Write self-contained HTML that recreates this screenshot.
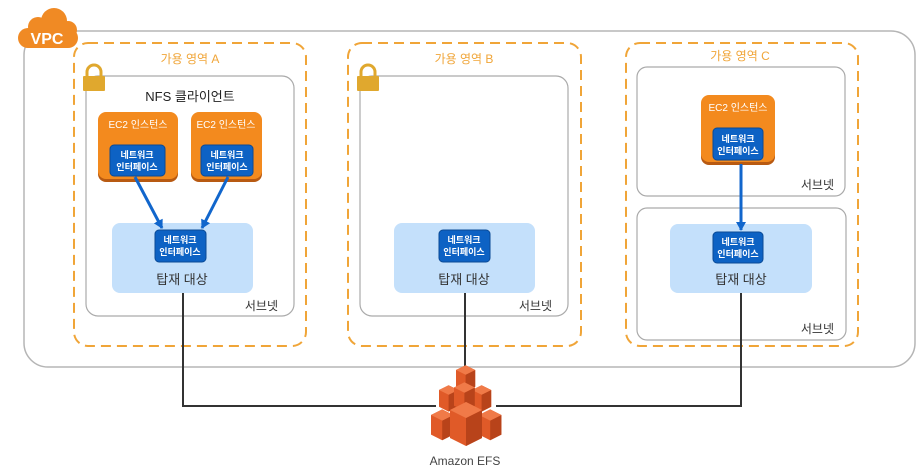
<!DOCTYPE html>
<html><head><meta charset="utf-8"><style>
body{margin:0;background:#fff;}
svg{display:block;font-family:"Liberation Sans","Noto Sans CJK KR",sans-serif;}
</style></head><body>
<svg width="922" height="476" viewBox="0 0 922 476">
<defs>
<marker id="ar" markerWidth="10" markerHeight="10" refX="8" refY="5" orient="auto" markerUnits="userSpaceOnUse"><path d="M0,0 L9,5 L0,10z" fill="#1166cc"/></marker>
<g id="efsc"><path d="M0,-5 L8,-9 L16,-5 L16,9 L8,13 L0,9z" fill="#e05a28"/><path d="M8,-1 L16,-5 L16,9 L8,13z" fill="#b8431a"/><path d="M0,-5 L8,-9 L16,-5 L8,-1z" fill="#f07a48"/></g>
</defs>
<rect x="24" y="31" width="891" height="336" rx="24" fill="#fff" stroke="#b5b5b5" stroke-width="1.5"/>
<g fill="#f08a24">
<circle cx="38" cy="27" r="10"/><circle cx="54" cy="21" r="13"/><circle cx="68" cy="30" r="9"/><rect x="18" y="28" width="60" height="20" rx="10"/>
</g>
<text x="47" y="44" text-anchor="middle" font-size="16" font-weight="bold" fill="#fff">VPC</text>

<g fill="none" stroke="#f0a538" stroke-width="2" stroke-dasharray="10,6">
<rect x="74" y="43" width="232" height="303" rx="14"/>
<rect x="348" y="43" width="233" height="303" rx="14"/>
<rect x="626" y="43" width="232" height="303" rx="14"/>
</g>
<g font-size="12" fill="#f0a538" text-anchor="middle">
<text x="190" y="63">가용 영역 A</text>
<text x="464" y="63">가용 영역 B</text>
<text x="740" y="60">가용 영역 C</text>
</g>
<g fill="#fff" stroke="#aaa" stroke-width="1.2">
<rect x="86" y="76" width="208" height="240" rx="12"/>
<rect x="360" y="76" width="208" height="240" rx="12"/>
<rect x="637" y="67" width="208" height="129" rx="10"/>
<rect x="637" y="208" width="209" height="132" rx="10"/>
</g>
<g fill="#e0a82e">
<rect x="83" y="76" width="22" height="15" rx="1"/>
<path d="M87,77 v-5 a7,7 0 0 1 14,0 v5" fill="none" stroke="#e0a82e" stroke-width="3"/>
<rect x="357" y="76" width="22" height="15" rx="1"/>
<path d="M361,77 v-5 a7,7 0 0 1 14,0 v5" fill="none" stroke="#e0a82e" stroke-width="3"/>
</g>
<text x="190" y="101" text-anchor="middle" font-size="13" fill="#222">NFS 클라이언트</text>
<g font-size="12" fill="#333" text-anchor="end">
<text x="278" y="310">서브넷</text>
<text x="552" y="310">서브넷</text>
<text x="834" y="189">서브넷</text>
<text x="834" y="333">서브넷</text>
</g>
<g>
<rect x="98" y="114" width="80" height="68" rx="8" fill="#b85a12"/>
<rect x="98" y="112" width="80" height="67" rx="8" fill="#f38a1e"/>
<rect x="191" y="114" width="71" height="68" rx="8" fill="#b85a12"/>
<rect x="191" y="112" width="71" height="67" rx="8" fill="#f38a1e"/>
<rect x="701" y="97" width="74" height="68" rx="8" fill="#b85a12"/>
<rect x="701" y="95" width="74" height="67" rx="8" fill="#f38a1e"/>
</g>
<g font-size="10" fill="#fff" text-anchor="middle">
<text x="138" y="128">EC2 인스턴스</text>
<text x="226" y="128">EC2 인스턴스</text>
<text x="738" y="111">EC2 인스턴스</text>
</g>
<g fill="#c4e0fb">
<rect x="112" y="223" width="141" height="70" rx="8"/>
<rect x="394" y="223" width="141" height="70" rx="8"/>
<rect x="670" y="224" width="142" height="69" rx="8"/>
</g>
<g font-size="13" fill="#333" text-anchor="middle">
<text x="182" y="284">탑재 대상</text>
<text x="464" y="284">탑재 대상</text>
<text x="741" y="284">탑재 대상</text>
</g>
<g fill="#0d62c4" stroke="#0a4a96" stroke-width="1">
<rect x="110" y="145" width="55" height="31" rx="4"/>
<rect x="201" y="145" width="52" height="31" rx="4"/>
<rect x="713" y="128" width="50" height="32" rx="4"/>
<rect x="155" y="230" width="51" height="32" rx="4"/>
<rect x="439" y="230" width="51" height="32" rx="4"/>
<rect x="713" y="232" width="50" height="31" rx="4"/>
</g>
<g font-size="9" fill="#fff" text-anchor="middle" font-weight="bold">
<text x="137" y="158">네트워크</text><text x="137" y="170">인터페이스</text>
<text x="227" y="158">네트워크</text><text x="227" y="170">인터페이스</text>
<text x="738" y="142">네트워크</text><text x="738" y="154">인터페이스</text>
<text x="180" y="243">네트워크</text><text x="180" y="255">인터페이스</text>
<text x="464" y="243">네트워크</text><text x="464" y="255">인터페이스</text>
<text x="738" y="245">네트워크</text><text x="738" y="257">인터페이스</text>
</g>
<g stroke="#1166cc" stroke-width="3" marker-end="url(#ar)">
<line x1="135" y1="177" x2="162" y2="228"/>
<line x1="228" y1="177" x2="202" y2="228"/>
<line x1="741" y1="164" x2="741" y2="230"/>
</g>
<g fill="none" stroke="#333" stroke-width="2">
<path d="M183,293 V406 H741 V293"/>
<line x1="465" y1="293" x2="465" y2="372"/>
</g>
<g>
<g transform="translate(456,376) scale(1.2)"><use href="#efsc"/></g>
<rect x="436" y="389" width="60" height="20" fill="#fff"/>
<g transform="translate(439,396) scale(1.2)"><use href="#efsc"/></g>
<g transform="translate(472,396) scale(1.2)"><use href="#efsc"/></g>
<g transform="translate(454,394) scale(1.3)"><use href="#efsc"/></g>
<g transform="translate(431,422) scale(1.4)"><use href="#efsc"/></g>
<g transform="translate(479,422) scale(1.4)"><use href="#efsc"/></g>
<g transform="translate(450,420) scale(2)"><use href="#efsc"/></g>
</g>
<text x="465" y="465" text-anchor="middle" font-size="12" fill="#444">Amazon EFS</text>
</svg>
</body></html>
